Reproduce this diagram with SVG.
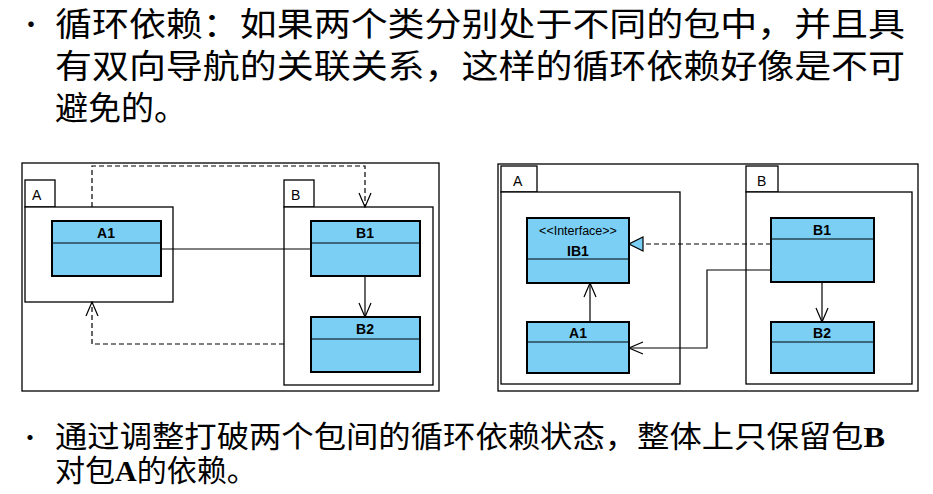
<svg xmlns="http://www.w3.org/2000/svg" width="933" height="494" viewBox="0 0 933 494">
<style>
.t{font-family:"Noto Sans CJK SC","Noto Sans",sans-serif;fill:#000}
.f{fill:#fff;stroke:#000;stroke-width:1.3}
.c{fill:#7bcff4;stroke:#000;stroke-width:2}
.l{stroke:#000;stroke-width:1}
.n{font-family:"Liberation Sans",Arial,sans-serif;font-size:14px;font-weight:bold;text-anchor:middle}
.p{font-family:"Liberation Sans",Arial,sans-serif;font-size:14px}
.e{fill:none;stroke:#000;stroke-width:1.2}
.d{stroke-dasharray:5,3}
</style>
<defs>
<marker id="o" viewBox="0 0 16 16" refX="15" refY="8" markerWidth="16" markerHeight="16" markerUnits="userSpaceOnUse" orient="auto"><path d="M1,2 L15,8 L1,14" fill="none" stroke="#000" stroke-width="1.2"/></marker>
<marker id="tri" viewBox="0 0 16 16" refX="15" refY="8" markerWidth="16" markerHeight="16" markerUnits="userSpaceOnUse" orient="auto"><path d="M1,1 L15,8 L1,15 Z" fill="#7bcff4" stroke="#000" stroke-width="1.2"/></marker>
</defs>
<rect width="933" height="494" fill="#fff"/>
<text class="t" x="18" y="34" font-size="26">•</text>
<text class="t" x="55" y="36" font-size="33" textLength="850" lengthAdjust="spacingAndGlyphs">循环依赖：如果两个类分别处于不同的包中，并且具</text>
<text class="t" x="55" y="78" font-size="33" textLength="850" lengthAdjust="spacingAndGlyphs">有双向导航的关联关系，这样的循环依赖好像是不可</text>
<text class="t" x="55" y="120" font-size="33">避免的。</text>
<text class="t" x="18" y="446" font-size="24">•</text>
<text class="t" x="55" y="447" font-size="30" textLength="830" lengthAdjust="spacingAndGlyphs">通过调整打破两个包间的循环依赖状态，整体上只保留包<tspan font-family="Liberation Serif,serif" font-weight="bold">B</tspan></text>
<text class="t" x="55" y="481" font-size="30">对包<tspan font-family="Liberation Serif,serif" font-weight="bold">A</tspan>的依赖。</text>

<g id="left">
<rect class="f" x="22" y="163" width="417" height="228"/>
<g id="pkgA1"><rect class="f" x="25" y="180" width="30" height="27"/><rect class="f" x="25" y="207" width="148" height="95"/><text class="p" x="32" y="200">A</text></g>
<g id="pkgB1"><rect class="f" x="284" y="180" width="30" height="27"/><rect class="f" x="284" y="207" width="149" height="178"/><text class="p" x="291" y="200">B</text></g>
<g id="A1"><rect class="c" x="52" y="221" width="109" height="55"/><line class="l" x1="52" y1="243" x2="161" y2="243"/><text class="n" x="106" y="238">A1</text></g>
<g id="B1"><rect class="c" x="311" y="221" width="109" height="55"/><line class="l" x1="311" y1="243" x2="420" y2="243"/><text class="n" x="365" y="238">B1</text></g>
<g id="B2"><rect class="c" x="311" y="317" width="109" height="55"/><line class="l" x1="311" y1="339" x2="420" y2="339"/><text class="n" x="365" y="334">B2</text></g>
</g>
<g id="right">
<rect class="f" x="498" y="164" width="420" height="227"/>
<g id="pkgA2"><rect class="f" x="501" y="166" width="36" height="26"/><rect class="f" x="501" y="192" width="179" height="192"/><text class="p" x="513" y="186">A</text></g>
<g id="pkgB2"><rect class="f" x="746" y="166" width="32" height="26"/><rect class="f" x="746" y="192" width="166" height="192"/><text class="p" x="757" y="186">B</text></g>
<g id="IB1"><rect class="c" x="527" y="218" width="102" height="65"/><line class="l" x1="527" y1="259" x2="629" y2="259"/><text x="578" y="235" font-family="Liberation Sans,Arial,sans-serif" font-size="12.5" text-anchor="middle">&lt;&lt;Interface&gt;&gt;</text><text class="n" x="578" y="256">IB1</text></g>
<g id="A1r"><rect class="c" x="527" y="322" width="102" height="51"/><line class="l" x1="527" y1="342" x2="629" y2="342"/><text class="n" x="578" y="338">A1</text></g>
<g id="B1r"><rect class="c" x="771" y="218" width="103" height="64"/><line class="l" x1="771" y1="239" x2="874" y2="239"/><text class="n" x="822" y="235">B1</text></g>
<g id="B2r"><rect class="c" x="771" y="322" width="103" height="51"/><line class="l" x1="771" y1="342" x2="874" y2="342"/><text class="n" x="822" y="338">B2</text></g>
</g>
<g id="connectors">
<line class="e" x1="161" y1="249" x2="311" y2="249" stroke-width="1.5"/>
<path class="e d" d="M92,207 V166 H365 V207" marker-end="url(#o)"/>
<line class="e" x1="365" y1="276" x2="365" y2="317" marker-end="url(#o)"/>
<path class="e d" d="M284,344 H92 V302" marker-end="url(#o)"/>
<line class="e d" x1="771" y1="244" x2="629" y2="244" marker-end="url(#tri)"/>
<line class="e" x1="590" y1="322" x2="590" y2="283" marker-end="url(#o)"/>
<path class="e" d="M771,270 H707 V348 H629" marker-end="url(#o)"/>
<line class="e" x1="822" y1="282" x2="822" y2="322" marker-end="url(#o)"/>
</g>
</svg>
